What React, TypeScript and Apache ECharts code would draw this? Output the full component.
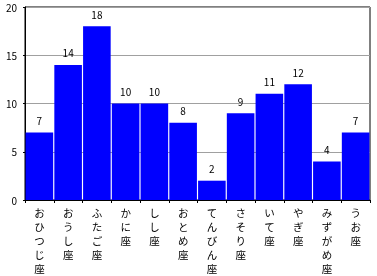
import React, { useEffect, useRef } from "react";
import * as echarts from "echarts";

const categories = ["おひつじ座", "おうし座", "ふたご座", "かに座", "しし座", "おとめ座", "てんびん座", "さそり座", "いて座", "やぎ座", "みずがめ座", "うお座"];
const values = [7, 14, 18, 10, 10, 8, 2, 9, 11, 12, 4, 7];
const yTicks = [0, 5, 10, 15, 20];

export default function App() {
  const ref = useRef<HTMLDivElement>(null);
  useEffect(() => {
    const chart = echarts.init(ref.current!, null, { renderer: "svg" });
    const font = "'Noto Sans CJK JP', 'DejaVu Sans', sans-serif";
    chart.setOption({
      animation: false,
      grid: { left: 25, right: 7, top: 7, bottom: 76, show: true, borderColor: "#000", borderWidth: 1, backgroundColor: "transparent" },
      xAxis: {
        type: "category",
        data: categories,
        axisLine: { lineStyle: { color: "#000", width: 1 } },
        axisTick: { show: true, length: 3, lineStyle: { color: "#000" } },
        axisLabel: {
          color: "#000",
          fontSize: 10.5,
          fontFamily: font,
          lineHeight: 13.8,
          margin: 6,
          interval: 0,
          formatter: (v: string) => v.split("").join("\n"),
        },
      },
      yAxis: {
        type: "value",
        min: yTicks[0],
        max: yTicks[yTicks.length - 1],
        interval: 5,
        axisLine: { show: true, lineStyle: { color: "#000" } },
        axisTick: { show: true, length: 2, lineStyle: { color: "#000" } },
        splitLine: { show: true, lineStyle: { color: "#a0a0a0", width: 1 } },
        axisLabel: { color: "#000", fontSize: 10, fontFamily: font, margin: 8 },
      },
      series: [
        {
          type: "bar",
          data: values,
          barCategoryGap: "4%",
          itemStyle: { color: "#0000ff" },
          label: { show: true, position: "top", distance: 7, color: "#000", fontSize: 10, fontFamily: font },
        },
      ],
    });
    return () => chart.dispose();
  }, []);
  return <div ref={ref} style={{ position: "fixed", left: 0, top: 0, width: 377, height: 276 }} />;
}
